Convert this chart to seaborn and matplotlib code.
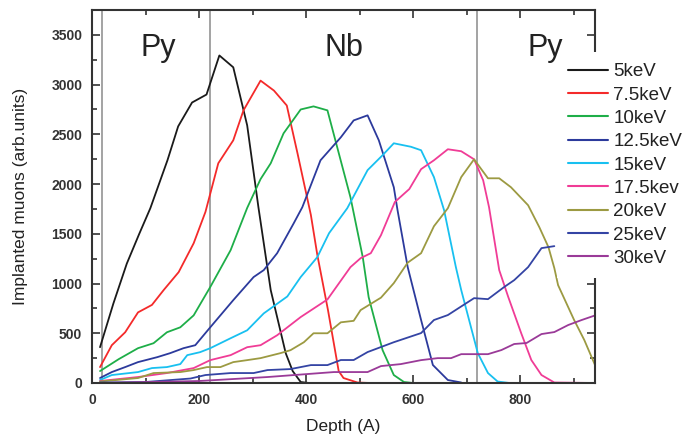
import numpy as np
import pandas as pd
import matplotlib
matplotlib.use("Agg")
import matplotlib.pyplot as plt
import seaborn as sns
from matplotlib.ticker import MultipleLocator

labels = ["5keV", "7.5keV", "10keV", "12.5keV", "15keV", "17.5kev", "20keV", "25keV", "30keV"]

x_5 = [15, 40, 65, 88, 109, 141, 161, 187, 214, 238, 264, 290, 311, 334, 362, 375, 390, 405]
y_5 = [360, 800, 1200, 1496, 1757, 2239, 2580, 2820, 2900, 3293, 3174, 2590, 1767, 934, 300, 120, 10, 0]

x_75 = [15, 37, 62, 86, 112, 134, 162, 190, 212, 236, 264, 283, 315, 340, 364, 384, 409, 421, 441, 461, 470, 496, 520]
y_75 = [160, 380, 510, 710, 785, 935, 1115, 1405, 1720, 2209, 2440, 2740, 3040, 2940, 2790, 2310, 1690, 1290, 733, 120, 50, 5, 0]

x_10 = [15, 50, 86, 115, 140, 165, 190, 209, 221, 259, 290, 315, 334, 358, 390, 414, 440, 483, 506, 517, 543, 564, 583, 600]
y_10 = [120, 240, 350, 400, 510, 560, 680, 855, 965, 1335, 1760, 2050, 2209, 2510, 2750, 2781, 2741, 1867, 1265, 863, 331, 80, 10, 0]

x_125 = [15, 37, 62, 86, 122, 146, 171, 193, 221, 264, 302, 321, 346, 377, 393, 427, 465, 489, 515, 536, 564, 571, 590, 615, 637, 665, 690]
y_125 = [50, 110, 160, 210, 260, 300, 350, 380, 560, 833, 1065, 1135, 1305, 1606, 1767, 2239, 2470, 2640, 2691, 2440, 1968, 1737, 1165, 633, 181, 30, 5]

x_15 = [15, 37, 86, 112, 140, 165, 178, 202, 221, 259, 290, 321, 365, 390, 421, 443, 477, 515, 543, 564, 596, 615, 639, 658, 680, 690, 721, 740, 758, 780]
y_15 = [30, 80, 110, 150, 160, 190, 280, 310, 350, 450, 530, 700, 870, 1065, 1265, 1506, 1757, 2140, 2290, 2410, 2375, 2340, 2070, 1737, 1165, 934, 300, 100, 15, 0]

x_175 = [15, 86, 140, 190, 221, 259, 290, 315, 346, 390, 440, 483, 502, 521, 540, 566, 593, 615, 639, 665, 690, 714, 731, 742, 761, 778, 802, 821, 840, 864, 940]
y_175 = [20, 60, 100, 150, 230, 280, 360, 380, 480, 663, 840, 1165, 1255, 1305, 1486, 1820, 1950, 2150, 2239, 2350, 2330, 2249, 2038, 1767, 1135, 863, 502, 231, 80, 5, 0]

x_20 = [15, 86, 115, 165, 190, 215, 240, 264, 290, 315, 352, 371, 396, 414, 440, 465, 489, 502, 540, 564, 590, 615, 639, 665, 690, 714, 740, 761, 783, 815, 836, 853, 864, 871, 901, 920, 940]
y_20 = [15, 50, 100, 110, 130, 160, 160, 210, 230, 250, 300, 330, 410, 500, 500, 610, 625, 733, 858, 1004, 1210, 1305, 1576, 1757, 2070, 2249, 2058, 2058, 1968, 1787, 1566, 1366, 1155, 984, 633, 432, 181]

x_25 = [15, 100, 184, 212, 259, 302, 328, 371, 409, 440, 465, 489, 515, 564, 615, 639, 665, 714, 740, 770, 789, 815, 840, 864]
y_25 = [5, 10, 45, 80, 100, 100, 130, 140, 180, 180, 231, 231, 311, 410, 502, 633, 683, 853, 843, 964, 1034, 1165, 1356, 1376]

x_30 = [15, 200, 328, 452, 515, 540, 577, 615, 646, 671, 690, 740, 765, 789, 812, 840, 864, 890, 915, 942]
y_30 = [0, 20, 60, 110, 110, 170, 190, 230, 250, 250, 290, 290, 331, 392, 402, 492, 512, 583, 633, 683]

xs = [x_5, x_75, x_10, x_125, x_15, x_175, x_20, x_25, x_30]
ys = [y_5, y_75, y_10, y_125, y_15, y_175, y_20, y_25, y_30]

colors = ["#1a1a1a", "#f42a2a", "#1eae48", "#2c3a9c", "#18c0f0", "#f03c96", "#9c9a42", "#3444a4", "#9a3a98"]

layer_lines = [18, 220, 720]
layer_names = ["Py", "Nb", "Py"]
layer_text_x = [123, 471, 847]

frames = []
for lab, xv, yv in zip(labels, xs, ys):
    frames.append(pd.DataFrame({"Depth": xv, "Counts": yv, "Energy": lab}))
df = pd.concat(frames, ignore_index=True)

sns.set_style("ticks")
plt.rcParams["font.family"] = ["Liberation Sans", "DejaVu Sans"]

fig = plt.figure(figsize=(6.84, 4.37), dpi=100)
ax = fig.add_axes([92 / 684, 1 - 383 / 437, (595 - 92) / 684, (383 - 10) / 437])

sns.lineplot(data=df, x="Depth", y="Counts", hue="Energy", hue_order=labels,
             palette=dict(zip(labels, colors)), estimator=None, sort=False,
             linewidth=1.3, ax=ax)

for xv in layer_lines:
    ax.axvline(xv, color="#8a8a8a", lw=1.1, zorder=1)
for name, tx in zip(layer_names, layer_text_x):
    ax.text(tx, 3290, name, ha="center", va="baseline", fontsize=22, color="#222222", zorder=6)

ax.set_xlim(0, 940)
ax.set_ylim(0, 3750)
ax.xaxis.set_major_locator(MultipleLocator(200))
ax.xaxis.set_minor_locator(MultipleLocator(100))
ax.yaxis.set_major_locator(MultipleLocator(500))
ax.yaxis.set_minor_locator(MultipleLocator(250))
ax.tick_params(which="both", direction="in", top=True, right=True, color="#333333", width=1.2)
ax.tick_params(which="major", length=6, pad=7, labelsize=10, labelcolor="#333333")
ax.tick_params(which="minor", length=3.5)
for lab in ax.get_xticklabels() + ax.get_yticklabels():
    lab.set_fontweight("bold")
for sp in ax.spines.values():
    sp.set_color("#333333")
    sp.set_linewidth(1.5)

ax.set_xlabel("Depth (A)", fontsize=12.5, color="#222222", labelpad=9)
ax.set_ylabel("Implanted muons (arb.units)", fontsize=12.5, color="#222222", labelpad=17)

handles, labs = ax.get_legend_handles_labels()
ax.legend_.remove()
leg = ax.legend(handles, labs, loc="upper left", bbox_to_anchor=(557 / 684, 1 - 52 / 437),
                bbox_transform=fig.transFigure, fontsize=13.5, frameon=True, facecolor="white",
                edgecolor="none", framealpha=1, fancybox=False, borderpad=0.6,
                handlelength=2.1, handletextpad=0.3, labelspacing=0.33, borderaxespad=0)
leg.set_zorder(5)
for t in leg.get_texts():
    t.set_color("#222222")
for h in leg.get_lines():
    h.set_linewidth(1.5)

fig.savefig("out.png", dpi=100)
